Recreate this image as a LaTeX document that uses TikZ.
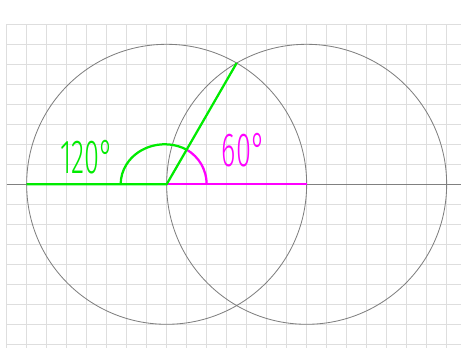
\documentclass[tikz,border=0pt]{standalone}
\usepackage{fontspec}
\newfontfamily\manuscrita[FakeStretch=0.57]{Fira Sans Light}
\definecolor{verde}{RGB}{0,235,0}
\definecolor{magenta}{RGB}{255,0,255}
\definecolor{rejilla}{RGB}{222,222,222}
\definecolor{trazo}{RGB}{128,128,128}
\begin{document}
\begin{tikzpicture}[
    x=0.5cm,
    y=0.5cm,
    rejilla/.style={
        draw=rejilla,
        line width=0.6pt
    },
    circulo/.style={
        draw=trazo,
        line width=0.6pt
    },
    lado/.style={
        line width=1.6pt
    },
    angulo/.style={
        font=\manuscrita\fontsize{34}{34}\selectfont,
        anchor=base west,
        inner sep=0pt
    }
]
    \useasboundingbox (-8.333,-8.185) rectangle (14.717,9.215);
    \draw[rejilla,step=1] (-8,-8.185) grid (14.717,8);

    \coordinate (O) at (0,0);
    \coordinate (P) at (7,0);
    \coordinate (A) at (-7,0);
    \coordinate (T) at (60:7);
    \coordinate (ejeizq) at (-8,0);
    \coordinate (ejeder) at (14.717,0);

    \draw[circulo] (ejeizq) -- (ejeder);
    \draw[circulo] (O) circle[radius=7];
    \draw[circulo] (P) circle[radius=7];

    \draw[lado,magenta] (O) -- (P);
    \draw[lado,magenta] (2,0) arc[start angle=0, end angle=60, radius=2];
    \draw[lado,verde] (A) -- (O) -- (T);
    \draw[lado,verde] (60:2)
        arc[start angle=60, end angle=180, x radius=2.2, y radius=2];

    \node[angulo,text=verde] (obtuso) at (-5.33,0.55) {120°};
    \node[angulo,text=magenta] (agudo) at (2.75,0.88) {60°};
\end{tikzpicture}
\end{document}
